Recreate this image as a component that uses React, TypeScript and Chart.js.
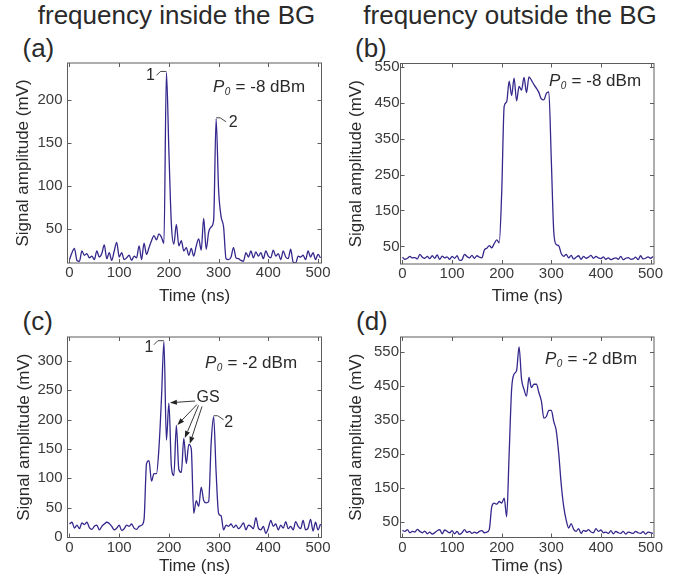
import React, { useEffect, useRef } from "react";
import { Chart, registerables } from "chart.js";

Chart.register(...registerables);

const FONT = '"Liberation Sans", Arial, Helvetica, sans-serif';
const LINE_COLOR = "#34288c";
const AXIS_COLOR = "#5c5c5c";
const TEXT_COLOR = "#2a2a2a";
const TICK_COLOR = "#3a3a3a";
const W = 693;
const H = 585;

// ---------------- data ----------------
const timeNs = [
  0, 5, 10, 15, 20, 25, 30, 35, 40, 45, 50, 55, 60, 65, 70, 75, 80, 85, 90, 95,
  100, 105, 110, 115, 120, 125, 130, 135, 140, 145, 150, 155, 160, 165, 170, 175, 180, 185, 190, 195,
  200, 205, 210, 215, 220, 225, 230, 235, 240, 245, 250, 255, 260, 265, 270, 275, 280, 285, 290, 295,
  300, 305, 310, 315, 320, 325, 330, 335, 340, 345, 350, 355, 360, 365, 370, 375, 380, 385, 390, 395,
  400, 405, 410, 415, 420, 425, 430, 435, 440, 445, 450, 455, 460, 465, 470, 475, 480, 485, 490, 495,
  500, 505,
];

// (a) frequency inside the BG, P0 = -8 dBm
const ampA = [
  14, 22, 27, 13, 12, 24, 19, 21, 16, 18, 14, 24, 17, 21, 31, 15, 22, 13, 24, 34,
  17, 22, 14, 16, 19, 13, 18, 16, 30, 14, 33, 20, 28, 36, 42, 37, 44, 40, 33, 232,
  140, 55, 32, 55, 30, 36, 24, 28, 19, 27, 18, 30, 38, 25, 62, 26, 46, 52, 60, 178,
  95, 64, 52, 15, 14, 17, 28, 16, 15, 13, 12, 22, 17, 24, 16, 23, 18, 22, 15, 24,
  18, 16, 25, 18, 21, 14, 24, 17, 15, 26, 11, 10, 18, 17, 19, 14, 24, 17, 22, 14,
  20, 16,
];

// (b) frequency outside the BG, P0 = -8 dBm
const ampB = [
  20, 14, 17, 22, 18, 19, 15, 28, 20, 17, 22, 16, 24, 17, 26, 14, 23, 18, 21, 14,
  22, 17, 24, 11, 13, 28, 22, 18, 25, 17, 24, 20, 18, 40, 45, 52, 46, 58, 68, 60,
  200, 440, 452, 510, 470, 518, 455, 495, 485, 520, 478, 522, 512, 500, 490, 478, 460, 458, 476, 480,
  290, 90, 55, 52, 30, 22, 28, 18, 25, 15, 20, 24, 14, 22, 17, 20, 25, 17, 22, 18,
  16, 21, 14, 18, 13, 16, 18, 14, 22, 13, 17, 19, 14, 15, 20, 13, 24, 15, 17, 21,
  17, 22,
];

// (c) frequency inside the BG, P0 = -2 dBm
const ampC = [
  22, 25, 15, 20, 14, 24, 21, 25, 16, 13, 18, 20, 12, 18, 22, 25, 23, 18, 12, 15,
  20, 11, 14, 20, 18, 22, 15, 13, 18, 20, 30, 125, 130, 95, 108, 108, 152, 235, 333, 165,
  228, 120, 105, 190, 115, 110, 168, 125, 158, 150, 40, 62, 52, 85, 62, 58, 60, 160, 205, 110,
  40, 36, 12, 20, 18, 22, 16, 20, 14, 18, 24, 12, 20, 18, 14, 33, 15, 12, 18, 6,
  15, 28, 18, 22, 12, 20, 15, 26, 14, 18, 12, 26, 18, 14, 28, 12, 15, 30, 10, 25,
  12, 22,
];

// (d) frequency outside the BG, P0 = -2 dBm
const ampD = [
  25, 22, 27, 18, 22, 20, 28, 22, 18, 23, 15, 20, 14, 18, 24, 27, 15, 26, 22, 18,
  24, 15, 22, 13, 18, 27, 19, 22, 16, 20, 17, 22, 24, 18, 20, 28, 95, 105, 102, 110,
  105, 120, 65, 250, 440, 485, 495, 565, 470, 440, 420, 475, 445, 455, 455, 430, 405, 355, 360, 378,
  378, 345, 318, 250, 160, 95, 55, 32, 45, 28, 22, 30, 16, 25, 22, 27, 20, 18, 30, 22,
  26, 18, 20, 16, 24, 15, 22, 18, 16, 22, 14, 20, 18, 16, 22, 18, 16, 21, 14, 20,
  18, 16,
];

const xTickValues = [0, 100, 200, 300, 400, 500];
const yTicksA = [50, 100, 150, 200];
const yTicksB = [50, 150, 250, 350, 450, 550];
const yTicksC = [0, 50, 100, 150, 200, 250, 300];
const yTicksD = [50, 150, 250, 350, 450, 550];

const columnTitles = ["frequency inside the BG", "frequency outside the BG"];
const panelLetters = ["(a)", "(b)", "(c)", "(d)"];
const powerLabels = ["-8 dBm", "-8 dBm", "-2 dBm", "-2 dBm"];
const xAxisTitle = "Time (ns)";
const yAxisTitle = "Signal amplitude (mV)";

// peak labels: [text, time, value]
const peakMarksA: [string, number, number][] = [["1", 195, 232], ["2", 295, 178]];
const peakMarksC: [string, number, number][] = [["1", 190, 333], ["2", 290, 205]];
// grating-soliton (GS) peaks in (c): [time, value]
const gsPeaksC: [number, number][] = [[200, 228], [215, 190], [230, 168], [240, 158]];

// ---------------- layout ----------------
type Mark = { text: string; t: number; v: number; dx: number; dy: number; leader: [number, number][] };
type Panel = {
  values: number[];
  yTicks: number[];
  yMin: number;
  yMax: number;
  box: [number, number, number, number];
  padLeft: number;
  xBottom: number;
  yTitleCenter: number;
  yTickPad: number;
  power: string;
  powerAt: [number, number];
  marks: Mark[];
  gs?: { at: [number, number]; tails: [number, number][]; peaks: [number, number][] };
};

const leftLeader: [number, number][] = [[-10, 3], [-6, -1], [0, -1]];
const rightLeader: [number, number][] = [[0, -1], [4, -1], [10, 3]];

const panels: Panel[] = [
  {
    values: ampA, yTicks: yTicksA, yMin: 10, yMax: 243,
    box: [67.5, 63, 321.5, 263], padLeft: 0, xBottom: 308, yTitleCenter: 23.5, yTickPad: 5,
    power: powerLabels[0], powerAt: [213, 87],
    marks: [
      { text: peakMarksA[0][0], t: peakMarksA[0][1], v: peakMarksA[0][2], dx: -16, dy: 3, leader: leftLeader },
      { text: peakMarksA[1][0], t: peakMarksA[1][1], v: peakMarksA[1][2], dx: 17, dy: 4, leader: rightLeader },
    ],
  },
  {
    values: ampB, yTicks: yTicksB, yMin: 1, yMax: 559,
    box: [400.5, 63.5, 654, 264], padLeft: 340, xBottom: 308, yTitleCenter: 356.5, yTickPad: 1,
    power: powerLabels[1], powerAt: [549, 81], marks: [],
  },
  {
    values: ampC, yTicks: yTicksC, yMin: -1, yMax: 341,
    box: [67.5, 337, 321.5, 537.5], padLeft: 0, xBottom: 578, yTitleCenter: 24, yTickPad: 5,
    power: powerLabels[2], powerAt: [205, 363],
    marks: [
      { text: peakMarksC[0][0], t: peakMarksC[0][1], v: peakMarksC[0][2], dx: -15, dy: 6, leader: leftLeader },
      { text: peakMarksC[1][0], t: peakMarksC[1][1], v: peakMarksC[1][2], dx: 15, dy: 6, leader: rightLeader },
    ],
    gs: {
      at: [208, 398],
      tails: [[195, 401], [197, 404.5], [198.5, 405.5], [202, 406.5]],
      peaks: gsPeaksC,
    },
  },
  {
    values: ampD, yTicks: yTicksD, yMin: 4, yMax: 594,
    box: [400.5, 337, 654, 537.5], padLeft: 340, xBottom: 578, yTitleCenter: 356.5, yTickPad: 1.5,
    power: powerLabels[3], powerAt: [545, 359], marks: [],
  },
];

function drawArrow(ctx: CanvasRenderingContext2D, x0: number, y0: number, x1: number, y1: number) {
  const ang = Math.atan2(y1 - y0, x1 - x0);
  const len = 7;
  const hw = 2.6;
  const bx = x1 - len * Math.cos(ang);
  const by = y1 - len * Math.sin(ang);
  ctx.beginPath();
  ctx.moveTo(x0, y0);
  ctx.lineTo(bx, by);
  ctx.stroke();
  ctx.beginPath();
  ctx.moveTo(x1, y1);
  ctx.lineTo(bx + hw * Math.sin(ang), by - hw * Math.cos(ang));
  ctx.lineTo(bx - hw * Math.sin(ang), by + hw * Math.cos(ang));
  ctx.closePath();
  ctx.fill();
}

function PanelChart({ p }: { p: Panel }) {
  const ref = useRef<HTMLCanvasElement | null>(null);
  useEffect(() => {
    if (!ref.current) return;
    const [bl, bt, br, bb] = p.box;
    const titleLine = 17 * 1.2;

    const decor = {
      id: "decor",
      afterDraw(chart: any) {
        const { ctx, chartArea: ca, scales } = chart;
        const x = scales.x;
        const y = scales.y;
        ctx.save();
        // frame
        ctx.strokeStyle = AXIS_COLOR;
        ctx.lineWidth = 1;
        ctx.strokeRect(ca.left, ca.top, ca.right - ca.left, ca.bottom - ca.top);
        // inward ticks on all four sides
        ctx.beginPath();
        for (const t of x.ticks) {
          const px = Math.round(x.getPixelForValue(t.value)) + 0.5;
          ctx.moveTo(px, ca.bottom);
          ctx.lineTo(px, ca.bottom - 4);
          ctx.moveTo(px, ca.top);
          ctx.lineTo(px, ca.top + 4);
        }
        for (const t of y.ticks) {
          const py = Math.round(y.getPixelForValue(t.value)) + 0.5;
          ctx.moveTo(ca.left, py);
          ctx.lineTo(ca.left + 4, py);
          ctx.moveTo(ca.right, py);
          ctx.lineTo(ca.right - 4, py);
        }
        ctx.stroke();

        // power label  P0 = ... dBm
        ctx.fillStyle = TEXT_COLOR;
        ctx.textBaseline = "middle";
        ctx.textAlign = "left";
        let [tx, ty] = p.powerAt;
        ctx.font = `italic 17px ${FONT}`;
        ctx.fillText("P", tx, ty);
        tx += ctx.measureText("P").width + 0.5;
        ctx.font = `italic 10px ${FONT}`;
        ctx.fillText("0", tx, ty + 5);
        tx += ctx.measureText("0").width + 0.5;
        ctx.font = `17px ${FONT}`;
        ctx.fillText(" = " + p.power, tx, ty);

        // peak labels with leader lines
        ctx.strokeStyle = "#333";
        ctx.lineWidth = 0.9;
        ctx.font = `16px ${FONT}`;
        ctx.textAlign = "center";
        for (const m of p.marks) {
          const px = x.getPixelForValue(m.t);
          const py = y.getPixelForValue(m.v);
          ctx.beginPath();
          m.leader.forEach(([dx, dy], i) => {
            if (i === 0) ctx.moveTo(px + dx, py + dy);
            else ctx.lineTo(px + dx, py + dy);
          });
          ctx.stroke();
          ctx.fillText(m.text, px + m.dx, py + m.dy);
        }

        // GS arrows
        if (p.gs) {
          ctx.font = `16px ${FONT}`;
          ctx.fillStyle = TEXT_COLOR;
          ctx.fillText("GS", p.gs.at[0], p.gs.at[1]);
          ctx.strokeStyle = "#222";
          ctx.fillStyle = "#222";
          ctx.lineWidth = 0.9;
          p.gs.peaks.forEach(([t, v], i) => {
            const px = x.getPixelForValue(t) + 1;
            const py = y.getPixelForValue(v) - 0.5;
            const [sx, sy] = p.gs!.tails[i];
            drawArrow(ctx, sx, sy, px, py);
          });
        }
        ctx.restore();
      },
    };

    const chart = new Chart(ref.current, {
      type: "line",
      data: {
        datasets: [
          {
            data: p.values.map((v, i) => ({ x: timeNs[i], y: v })),
            borderColor: LINE_COLOR,
            borderWidth: 1.3,
            pointRadius: 0,
            fill: false,
            tension: 0.35,
            cubicInterpolationMode: "monotone",
          },
        ],
      },
      options: {
        responsive: false,
        maintainAspectRatio: false,
        animation: false,
        events: [],
        layout: {
          padding: { left: p.padLeft, top: bt, right: W - br, bottom: H - p.xBottom },
        },
        plugins: { legend: { display: false }, tooltip: { enabled: false } },
        scales: {
          x: {
            type: "linear",
            min: -4,
            max: 507,
            afterBuildTicks: (s: any) => {
              s.ticks = xTickValues.map((v) => ({ value: v }));
            },
            afterFit: (s: any) => {
              s.height = p.xBottom - bb;
            },
            grid: { display: false, drawTicks: false },
            border: { display: false },
            ticks: {
              font: { family: FONT, size: 15 },
              color: TICK_COLOR,
              padding: 1,
              maxRotation: 0,
              autoSkip: false,
            },
            title: {
              display: true,
              text: xAxisTitle,
              font: { family: FONT, size: 17 },
              color: TEXT_COLOR,
              padding: { top: 0, bottom: 1 },
            },
          },
          y: {
            type: "linear",
            min: p.yMin,
            max: p.yMax,
            afterBuildTicks: (s: any) => {
              s.ticks = p.yTicks.map((v) => ({ value: v }));
            },
            afterFit: (s: any) => {
              s.width = bl - p.padLeft;
            },
            grid: { display: false, drawTicks: false },
            border: { display: false },
            ticks: {
              font: { family: FONT, size: 15 },
              color: TICK_COLOR,
              padding: p.yTickPad,
              autoSkip: false,
            },
            title: {
              display: true,
              text: yAxisTitle,
              font: { family: FONT, size: 17 },
              color: TEXT_COLOR,
              padding: { top: p.yTitleCenter - p.padLeft - titleLine / 2, bottom: 0 },
            },
          },
        },
      },
      plugins: [decor],
    } as any);
    return () => chart.destroy();
  }, [p]);
  return (
    <canvas
      ref={ref}
      width={W}
      height={H}
      style={{ position: "absolute", left: 0, top: 0, width: W, height: H }}
    />
  );
}

const textStyle = (left: number, top: number, size: number, center = false): React.CSSProperties => ({
  position: "absolute",
  left,
  top,
  fontFamily: FONT,
  fontSize: size,
  lineHeight: 1,
  color: TEXT_COLOR,
  whiteSpace: "nowrap",
  transform: center ? "translateX(-50%)" : undefined,
});

export default function App() {
  return (
    <div
      style={{
        position: "absolute",
        left: 0,
        top: 0,
        width: W,
        height: H,
        background: "#ffffff",
        overflow: "hidden",
      }}
    >
      <div style={textStyle(176.5, 2, 26, true)}>{columnTitles[0]}</div>
      <div style={textStyle(510, 2, 26, true)}>{columnTitles[1]}</div>
      <div style={textStyle(22.5, 35, 26)}>{panelLetters[0]}</div>
      <div style={textStyle(355, 35, 26)}>{panelLetters[1]}</div>
      <div style={textStyle(22.5, 308, 26)}>{panelLetters[2]}</div>
      <div style={textStyle(356, 308, 26)}>{panelLetters[3]}</div>
      {panels.map((p, i) => (
        <PanelChart key={i} p={p} />
      ))}
    </div>
  );
}
